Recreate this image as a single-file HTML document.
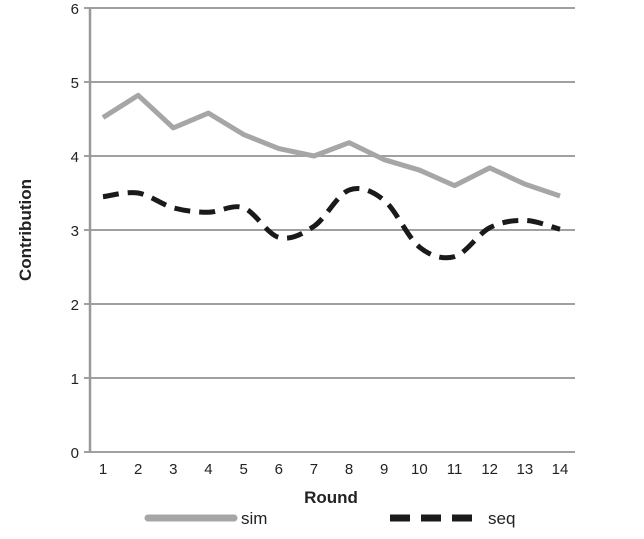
<!DOCTYPE html>
<html><head><meta charset="utf-8"><style>
html,body{margin:0;padding:0;background:#fff;}
svg{display:block;font-family:"Liberation Sans",Arial,sans-serif;}
</style></head><body>
<svg id="chart" width="644" height="539">
<g id="grid"></g><g id="axes"></g><g id="series"></g>
<text x="331" y="503" text-anchor="middle" font-size="17" font-weight="bold" fill="#222">Round</text>
<text transform="translate(31,230) rotate(-90)" text-anchor="middle" font-size="17" font-weight="bold" fill="#222">Contribution</text>
<g>
<g>
<line x1="148" y1="518" x2="234" y2="518" stroke="#a6a6a6" stroke-width="7" stroke-linecap="round"/>
<text x="241" y="524" font-size="17" fill="#222">sim</text></g>
<g>
<line x1="390" y1="518" x2="472" y2="518" stroke="#1a1a1a" stroke-width="7" stroke-dasharray="20,11"/>
<text x="488" y="524" font-size="17" fill="#222">seq</text></g>
</g>
</svg>
<script>
const categories=[1,2,3,4,5,6,7,8,9,10,11,12,13,14];
const simValues=[4.52,4.82,4.38,4.58,4.29,4.1,4.0,4.18,3.95,3.81,3.6,3.84,3.62,3.46];
const seqValues=[3.45,3.5,3.3,3.24,3.3,2.9,3.05,3.54,3.4,2.77,2.64,3.03,3.13,3.01];
const yTicks=[0,1,2,3,4,5,6];
const NS="http://www.w3.org/2000/svg";
const x0=90,x1=575,yTop=8,yBot=452;
function xs(i){return 103+(i-1)*(560-103)/13;}
function ys(v){return yBot-(v/6)*(yBot-yTop);}
function mk(t,a,p){const e=document.createElementNS(NS,t);for(const k in a)e.setAttribute(k,a[k]);p.appendChild(e);return e;}
const grid=document.getElementById('grid'),axes=document.getElementById('axes'),ser=document.getElementById('series');
yTicks.forEach(v=>{
 const l=mk('line',{x1:x0-6,x2:x1,y1:ys(v),y2:ys(v),stroke:'#a0a0a0','stroke-width':2},grid);
 
 
 const t=mk('text',{x:x0-11,y:ys(v)+6,'text-anchor':'end','font-size':15,fill:'#222'},axes);
 t.textContent=v;
 
 
});
const ya=mk('line',{x1:x0,x2:x0,y1:yTop,y2:yBot+1,stroke:'#999','stroke-width':2.5},axes);


categories.forEach((c,i)=>{
 const t=mk('text',{x:xs(c),y:474,'text-anchor':'middle','font-size':15,fill:'#222'},axes);
 t.textContent=c;
 
 
});
const simPts=categories.map((c,i)=>[xs(c),ys(simValues[i])]);
const sp=mk('path',{d:'M'+simPts.map(p=>p.join(',')).join('L'),fill:'none',stroke:'#a6a6a6','stroke-width':5,'stroke-linejoin':'round'},ser);


const q=categories.map((c,i)=>[xs(c),ys(seqValues[i])]);
let d='M'+q[0].join(',');
for(let i=0;i<q.length-1;i++){
 const p0=q[Math.max(0,i-1)],p1=q[i],p2=q[i+1],p3=q[Math.min(q.length-1,i+2)];
 const c1=[p1[0]+(p2[0]-p0[0])/6,p1[1]+(p2[1]-p0[1])/6],c2=[p2[0]-(p3[0]-p1[0])/6,p2[1]-(p3[1]-p1[1])/6];
 d+='C'+c1.join(',')+' '+c2.join(',')+' '+p2.join(',');
}
const qp=mk('path',{d:d,fill:'none',stroke:'#1a1a1a','stroke-width':5,'stroke-dasharray':'16,9'},ser);


</script>
</body></html>
